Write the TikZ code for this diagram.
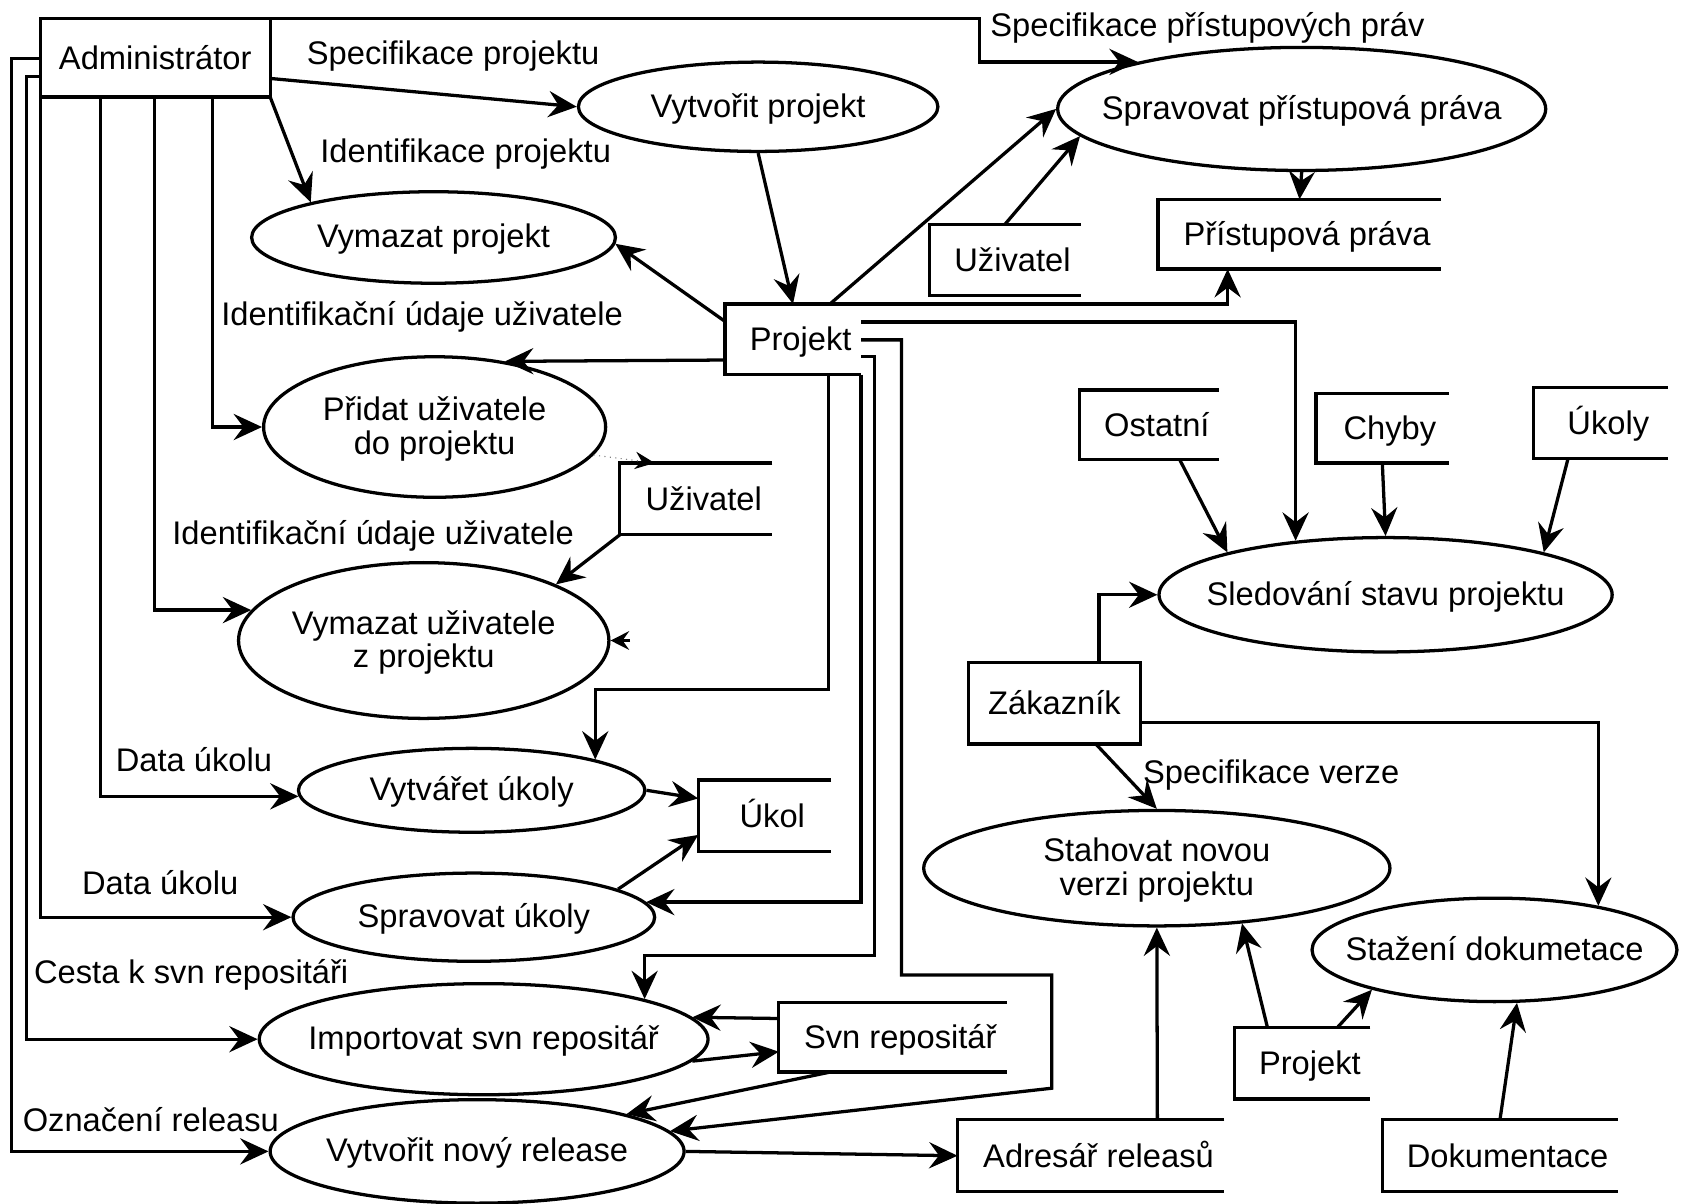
\documentclass[tikz,border=0pt]{standalone}
\usepackage{fontspec}
\setmainfont{Liberation Sans}
\usetikzlibrary{arrows.meta,shapes.geometric}
\newcommand{\ptext}[1]{\makebox[0pt]{\begin{tabular}{@{}c@{}}#1\end{tabular}}}
\tikzset{
  proc/.style={ellipse, draw, inner sep=0pt},
  entity/.style={draw, inner sep=0pt, outer sep=0pt},
  store/.style={inner sep=0pt, outer sep=0pt, execute at begin node={\hspace*{7pt}}},
  flow/.style={-{Stealth[length=13pt,width=12pt,inset=4.5pt]}},
}
\begin{document}
\begin{tikzpicture}[x=0.5pt, y=-0.5pt, font=\fontsize{15}{15.5}\selectfont, line width=1.5pt,
  every node/.append style={text height=13pt, text depth=2.5pt}]
\useasboundingbox (0,0) rectangle (1568,1105);
	%Entity
\node[entity, minimum width=105.5pt, minimum height=36pt] (admin) at (142.5,53) {Administrátor};
\node[entity, minimum width=79pt, minimum height=37.5pt] (zakaznik) at (968,645.5) {Zákazník};
	%Procesy
\node[proc, minimum width=165pt, minimum height=41pt] (vytvorit) at (696,98) {\ptext{Vytvořit projekt}};
\node[proc, minimum width=167pt, minimum height=42pt] (vymazatP) at (398,218) {\ptext{Vymazat projekt}};
\node[proc, minimum width=157pt, minimum height=64.5pt] (pridat) at (399,392) {\ptext{Přidat uživatele\\do projektu}};
\node[proc, minimum width=170pt, minimum height=71.5pt] (vymazatU) at (389,588) {\ptext{Vymazat uživatele\\z projektu}};
\node[proc, minimum width=159pt, minimum height=38.5pt] (vytvaret) at (433,725.5) {\ptext{Vytvářet úkoly}};
\node[proc, minimum width=166pt, minimum height=40.5pt] (spravUk) at (435,842) {\ptext{Spravovat úkoly}};
\node[proc, minimum width=206pt, minimum height=51pt] (importS) at (444,954) {\ptext{Importovat svn repositář}};
\node[proc, minimum width=190pt, minimum height=47.5pt] (release) at (438,1057) {\ptext{Vytvořit nový release}};
\node[proc, minimum width=224pt, minimum height=56.5pt] (spravPrava) at (1195,100) {\ptext{Spravovat přístupová práva}};
\node[proc, minimum width=208pt, minimum height=52.5pt] (sledovani) at (1272,546) {\ptext{Sledování stavu projektu}};
\node[proc, minimum width=214pt, minimum height=53pt] (stahovat) at (1062,797) {\ptext{Stahovat novou\\verzi projektu}};
\node[proc, minimum width=167.5pt, minimum height=47.5pt] (stazeni) at (1372,872) {\ptext{Stažení dokumetace}};
	%Uloziste dat
\node[store, minimum width=69.5pt, minimum height=32.5pt] (uzivA) at (922.5,238.5) {Uživatel};
\node[store, minimum width=130pt, minimum height=32pt] (prava) at (1193,215) {Přístupová práva};
\node[store, minimum width=62.5pt, minimum height=32.5pt] (projekt) at (728,311.5) {Projekt};
\node[store, minimum width=70pt, minimum height=33pt] (uzivB) at (639,458) {Uživatel};
\node[store, minimum width=61pt, minimum height=33pt] (ukol) at (702,749) {Úkol};
\node[store, minimum width=104.5pt, minimum height=32pt] (svn) at (819.5,952) {Svn repositář};
\node[store, minimum width=122.5pt, minimum height=33pt] (adresar) at (1001.5,1061) {Adresář releasů};
\node[store, minimum width=64pt, minimum height=32pt] (ostatni) at (1055,390) {Ostatní};
\node[store, minimum width=61pt, minimum height=32pt] (chyby) at (1269,393) {Chyby};
\node[store, minimum width=61.5pt, minimum height=32.5pt] (ukoly) at (1469.5,388.5) {Úkoly};
\node[store, minimum width=62.5pt, minimum height=33pt] (projektB) at (1195.5,976) {Projekt};
\node[store, minimum width=108pt, minimum height=33pt] (dokum) at (1377,1061) {Dokumentace};
\foreach \s in {uzivA,prava,projekt,uzivB,ukol,svn,adresar,ostatni,chyby,ukoly,projektB,dokum}
  \draw (\s.north east) -| (\s.south west) -- (\s.south east); %otevrene vpravo
	%Popisky toku
\node (lSpecProj) at (416,49) {Specifikace projektu};
\node (lIdProj) at (427.5,139) {Identifikace projektu};
\node (lIdUziv1) at (387.5,288) {Identifikační údaje uživatele};
\node (lIdUziv2) at (342.5,489) {Identifikační údaje uživatele};
\node (lData1) at (178,698) {Data úkolu};
\node (lData2) at (147,811) {Data úkolu};
\node (lCesta) at (175.5,892) {Cesta k svn repositáři};
\node (lOznac) at (138.5,1028) {Označení releasu};
\node (lSpecPrav) at (1108.5,23) {Specifikace přístupových práv};
\node (lSpecVerze) at (1167,709) {Specifikace verze};
	%Administrator
\draw[flow] ([yshift=-9.5pt]admin.east) -- (vytvorit.west);
\draw[flow] (admin.south east) -- (vymazatP.164);
\draw[flow] (admin.north east) -- ++(651,0) |- (spravPrava.164);
\draw[flow] ([xshift=26.25pt]admin.south) |- (pridat.west);
\draw[flow] ([xshift=-0.25pt]admin.south) |- (vymazatU.170);
\draw[flow] ([xshift=-25.25pt]admin.south) |- (vytvaret.182);
\draw[flow] (admin.south west) |- (spravUk.west);
\draw[flow] ([yshift=-8.75pt]admin.west) -- ++(-12.5,0) |- (importS.west);
\draw[flow] ([yshift=-0.5pt]admin.west) -- ++(-26.5,0) |- (release.west);
	%Projekt
\draw[flow] (vytvorit.south) -- (projekt.north);
\draw[flow] ([yshift=8.25pt]projekt.west) -- (vymazatP.-2);
\draw[flow] ([yshift=-9.5pt]projekt.west) -- (pridat.43);
\draw[flow] ([xshift=17pt]projekt.north) -- (spravPrava.west);
\draw[flow] (projekt.north east) -| ([xshift=-33pt]prava.south);
\draw[flow] ([yshift=8pt]projekt.east) -| (sledovani.149);
\draw[flow] ([xshift=16.25pt]projekt.south) -- ++(0,289) -| (vytvaret.14);
\draw[flow] (projekt.south east) |- (spravUk.5);
\draw[flow] ([yshift=-8pt]projekt.east) -- ++(12.5,0) -- ++(0,549.5) -| (importS.14);
\draw[flow] ([yshift=-0.25pt]projekt.east) -- ++(37,0) -- ++(0,583) -- ++(138,0) -- ++(0,104) -- (release.6);
	%Uzivatel, ukoly, repositar
\draw[flow] (uzivA.north) -- (spravPrava.187);
\draw[flow] (spravPrava.south) -- (prava.north);
\draw[flow] (uzivB.south west) -- (vymazatU.23);
\draw[gray, dotted, line width=0.5pt, -{Stealth[length=9pt,width=8pt,inset=3pt,black]}] (pridat.-10) -- ([xshift=16pt]uzivB.north west);
\draw[-{Stealth[length=8.5pt,width=8.5pt,inset=3pt]}] ([xshift=9pt]vymazatU.east) -- (vymazatU.east);
\draw[flow] (vytvaret.east) -- ([yshift=8pt]ukol.west);
\draw[flow] (spravUk.11) -- ([yshift=-8.75pt]ukol.west);
\draw[flow] ([yshift=8.5pt]svn.west) -- (importS.6);
\draw[flow] (importS.-6) -- ([yshift=-6.75pt]svn.west);
\draw[flow] ([xshift=-28.25pt]svn.south) -- (release.14);
\draw[flow] (release.east) -- (adresar.west);
	%Zakaznik a sledovani
\draw[flow] ([xshift=14pt]ostatni.south) -- (sledovani.165);
\draw[flow] (chyby.south) -- (sledovani.north);
\draw[flow] ([xshift=-15pt]ukoly.south) -- (sledovani.15);
\draw[flow] ([xshift=20.5pt]zakaznik.north) |- (sledovani.west);
\draw[flow] ([yshift=-8.75pt]zakaznik.east) -| (stazeni.23);
\draw[flow] ([xshift=19pt]zakaznik.south) -- (stahovat.north);
\draw[flow] ([xshift=30.5pt]adresar.north) -- (stahovat.south);
\draw[flow] ([xshift=-16pt]projektB.north) -- (stahovat.-33);
\draw[flow] ([xshift=16.25pt]projektB.north) -- (stazeni.198);
\draw[flow] (dokum.north) -- (stazeni.-67);
\end{tikzpicture}
\end{document}
